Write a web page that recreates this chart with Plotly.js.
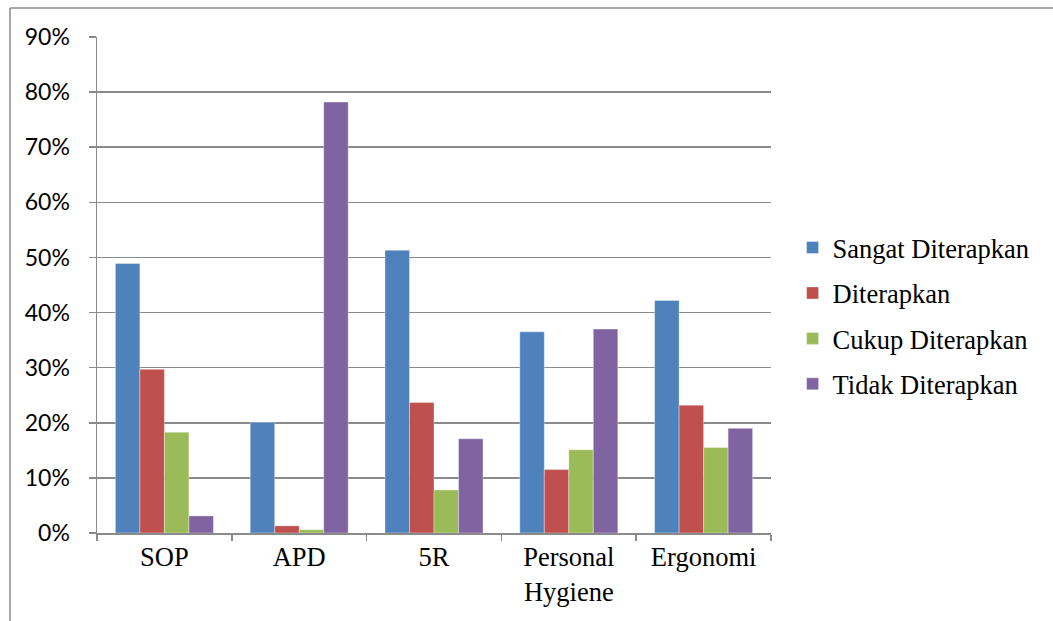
<!DOCTYPE html>
<html>
<head>
<meta charset="utf-8">
<script src="https://cdn.plot.ly/plotly-3.0.1.min.js"></script>
<style>
html,body{margin:0;padding:0;background:#fff;}
#chart{width:1053px;height:621px;}
</style>
</head>
<body>
<div id="chart"></div>
<script>
const categories = ["SOP", "APD", "5R", "Personal<br>Hygiene", "Ergonomi"];
const seriesNames = ["Sangat Diterapkan", "Diterapkan", "Cukup Diterapkan", "Tidak Diterapkan"];
const sangatDiterapkan = [48.9, 20.1, 51.3, 36.5, 42.2];
const diterapkan = [29.7, 1.3, 23.7, 11.5, 23.2];
const cukupDiterapkan = [18.3, 0.6, 7.8, 15.1, 15.5];
const tidakDiterapkan = [3.1, 78.2, 17.1, 37.0, 19.0];
const colors = ["#4F81BD", "#C0504D", "#9BBB59", "#8064A2"];
const yTickVals = [0, 10, 20, 30, 40, 50, 60, 70, 80, 90];

const seriesValues = [sangatDiterapkan, diterapkan, cukupDiterapkan, tidakDiterapkan];
const traces = seriesValues.map((vals, i) => ({
  type: "bar",
  name: seriesNames[i],
  x: categories,
  y: vals,
  legendgroup: "g" + i,
  marker: { color: colors[i], line: { color: "rgba(255,255,255,0.35)", width: 1 } },
  hoverinfo: "x+y+name"
}));

const gridColor = "#8a8a8a";
const serif = "Liberation Serif, Times New Roman, serif";
const layout = {
  width: 1053,
  height: 621,
  margin: { l: 97, r: 282, t: 37, b: 88 },
  paper_bgcolor: "#fff",
  plot_bgcolor: "#fff",
  barmode: "group",
  bargap: 0.273,
  bargroupgap: 0,
  showlegend: true,
  legend: {
    x: 1.032, xanchor: "left",
    y: 0.438, yanchor: "middle",
    traceorder: "grouped",
    tracegroupgap: 8,
    font: { family: serif, size: 26.5, color: "#000" },
    bgcolor: "rgba(0,0,0,0)"
  },
  xaxis: {
    type: "category",
    tickson: "boundaries",
    ticks: "outside",
    ticklen: 6,
    tickcolor: gridColor,
    tickwidth: 1.5,
    showline: true,
    linecolor: gridColor,
    linewidth: 1.5,
    showgrid: false,
    tickfont: { family: serif, size: 26.5, color: "#000" },
    fixedrange: true
  },
  yaxis: {
    range: [0, 90],
    tickvals: yTickVals,
    ticktext: yTickVals.map(v => v + "%"),
    ticks: "outside",
    ticklen: 7,
    tickcolor: gridColor,
    tickwidth: 1.5,
    showline: true,
    linecolor: gridColor,
    linewidth: 1.5,
    showgrid: true,
    gridcolor: gridColor,
    gridwidth: 1.5,
    zeroline: false,
    ticklabelstandoff: 14,
    tickfont: { family: "Lato, Carlito, Calibri, sans-serif", size: 23, color: "#000" },
    fixedrange: true
  },
  shapes: [
    { type: "line", xref: "paper", yref: "paper", x0: (10 - 97) / 674, x1: (10 - 97) / 674, y0: (533 - 8) / 496, y1: (533 - 640) / 496, line: { color: gridColor, width: 1.5 } },
    { type: "line", xref: "paper", yref: "paper", x0: (10 - 97) / 674, x1: (1070 - 97) / 674, y0: (533 - 8) / 496, y1: (533 - 8) / 496, line: { color: gridColor, width: 1.5 } }
  ]
};

Plotly.newPlot("chart", traces, layout, { displayModeBar: false, staticPlot: true });
</script>
</body>
</html>
